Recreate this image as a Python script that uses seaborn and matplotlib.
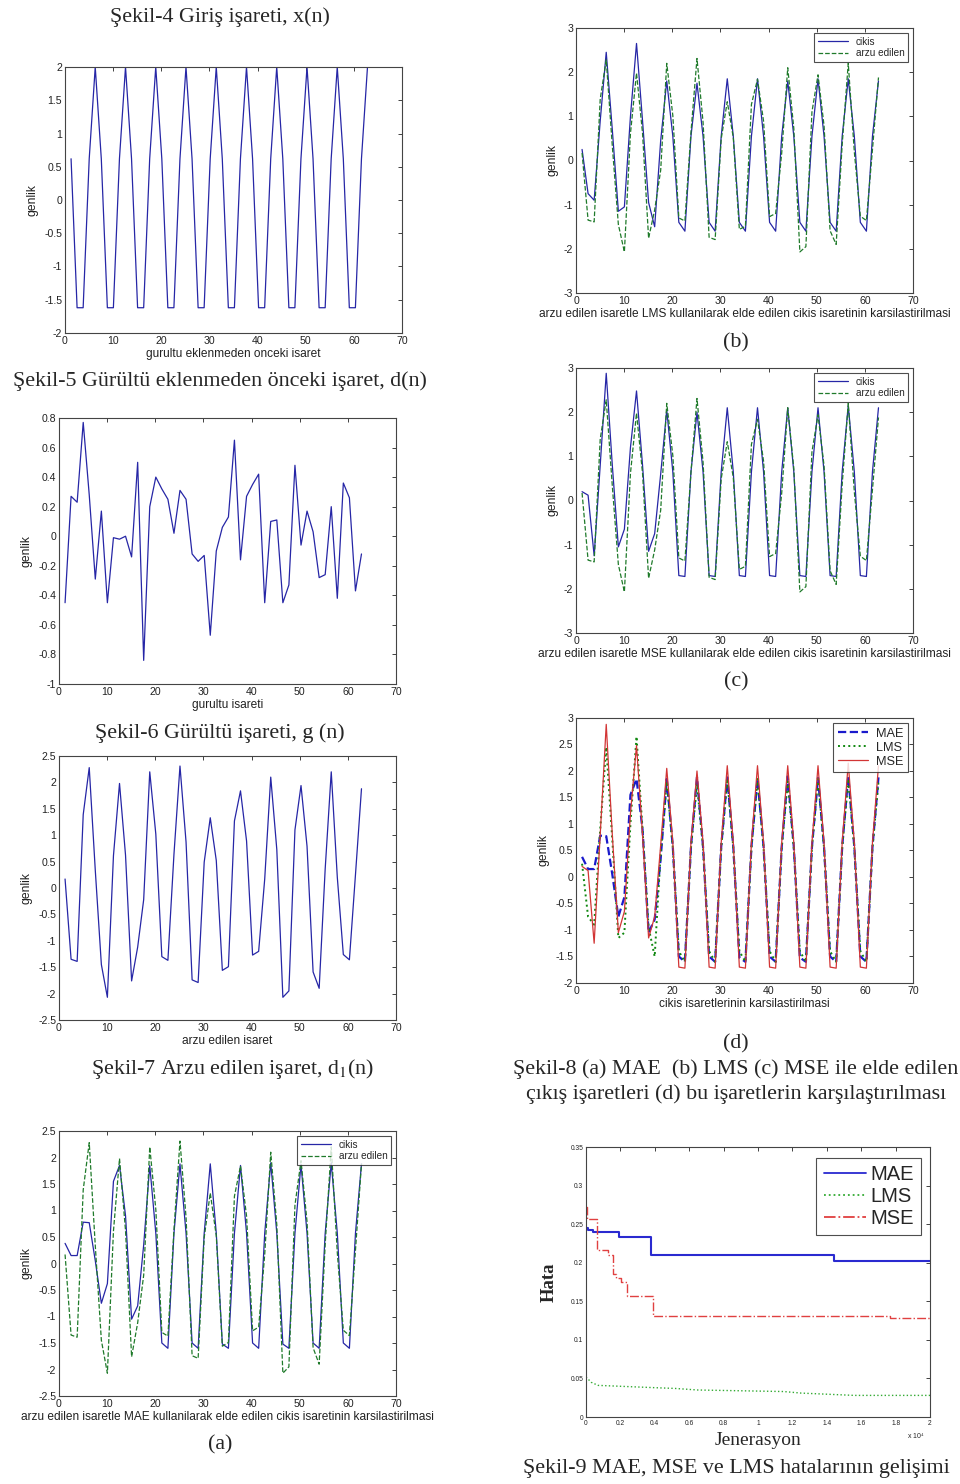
import numpy as np
import pandas as pd
import seaborn as sns
import matplotlib
matplotlib.use("Agg")
import matplotlib.pyplot as plt

# sample positions (x axis of all signal plots)
n = [1.26, 2.51, 3.77, 5.03, 6.28, 7.54, 8.80, 10.05, 11.31, 12.57,
     13.82, 15.08, 16.34, 17.59, 18.85, 20.11, 21.36, 22.62, 23.88, 25.13,
     26.39, 27.65, 28.90, 30.16, 31.42, 32.67, 33.93, 35.19, 36.44, 37.70,
     38.96, 40.21, 41.47, 42.73, 43.98, 45.24, 46.50, 47.75, 49.01, 50.27,
     51.52, 52.78, 54.04, 55.29, 56.55, 57.81, 59.06, 60.32, 61.58, 62.83]

# gurultu eklenmeden onceki isaret d(n)
d_clean = [0.62, -1.62, -1.62, 0.62, 2.00, 0.62, -1.62, -1.62, 0.62, 2.00,
           0.62, -1.62, -1.62, 0.62, 2.00, 0.62, -1.62, -1.62, 0.62, 2.00,
           0.62, -1.62, -1.62, 0.62, 2.00, 0.62, -1.62, -1.62, 0.62, 2.00,
           0.62, -1.62, -1.62, 0.62, 2.00, 0.62, -1.62, -1.62, 0.62, 2.00,
           0.62, -1.62, -1.62, 0.62, 2.00, 0.62, -1.62, -1.62, 0.62, 2.00]

# gurultu isareti g(n)
noise = [-0.45, 0.27, 0.23, 0.77, 0.28, -0.29, 0.17, -0.45, -0.01, -0.02,
         0.00, -0.14, 0.50, -0.84, 0.20, 0.40, 0.32, 0.25, 0.02, 0.31,
         0.25, -0.12, -0.17, -0.13, -0.67, -0.10, 0.06, 0.13, 0.65, -0.16,
         0.27, 0.35, 0.42, -0.45, 0.10, 0.11, -0.45, -0.33, 0.48, -0.06,
         0.17, 0.03, -0.28, -0.26, 0.20, -0.42, 0.36, 0.26, -0.37, -0.12]

# arzu edilen isaret d1(n)
desired = [0.17, -1.35, -1.39, 1.39, 2.28, 0.33, -1.45, -2.07, 0.61, 1.98,
           0.62, -1.76, -1.12, -0.22, 2.20, 1.02, -1.30, -1.37, 0.64, 2.31,
           0.87, -1.74, -1.79, 0.49, 1.33, 0.52, -1.56, -1.49, 1.27, 1.84,
           0.89, -1.27, -1.20, 0.17, 2.10, 0.73, -2.07, -1.95, 1.10, 1.94,
           0.79, -1.59, -1.90, 0.36, 2.20, 0.20, -1.26, -1.36, 0.25, 1.88]

# cikis isaretleri
out_mae = [0.38, 0.15, 0.15, 0.78, 0.77, 0.05, -0.75, -0.38, 1.55, 1.85,
           0.90, -1.05, -0.80, 0.35, 1.85, 0.57, -1.50, -1.60, 0.57, 1.88,
           0.57, -1.50, -1.60, 0.57, 1.88, 0.57, -1.52, -1.60, 0.57, 1.85,
           0.57, -1.50, -1.60, 0.57, 1.90, 0.57, -1.52, -1.60, 0.57, 1.87,
           0.57, -1.50, -1.60, 0.57, 1.90, 0.57, -1.50, -1.60, 0.57, 1.88]

out_lms = [0.25, -0.75, -0.90, 0.90, 2.45, 0.70, -1.15, -1.05, 1.00, 2.65,
           0.90, -0.95, -1.50, 0.45, 1.80, 0.55, -1.40, -1.60, 0.55, 1.75,
           0.55, -1.40, -1.60, 0.55, 1.85, 0.55, -1.40, -1.60, 0.55, 1.85,
           0.55, -1.40, -1.60, 0.55, 1.80, 0.55, -1.40, -1.60, 0.55, 1.85,
           0.55, -1.40, -1.60, 0.55, 1.85, 0.55, -1.40, -1.60, 0.55, 1.80]

out_mse = [0.20, 0.12, -1.25, 0.80, 2.88, 0.80, -1.05, -0.65, 1.20, 2.48,
           0.80, -1.15, -0.75, 0.60, 2.05, 0.65, -1.70, -1.72, 0.65, 2.00,
           0.65, -1.70, -1.72, 0.65, 2.10, 0.65, -1.70, -1.72, 0.65, 2.10,
           0.65, -1.70, -1.72, 0.65, 2.10, 0.65, -1.70, -1.72, 0.65, 2.10,
           0.65, -1.70, -1.72, 0.65, 2.15, 0.65, -1.70, -1.72, 0.65, 2.10]

# hata gelisimi (jenerasyon x 10^4)
mae_gen = [0, 0.01, 0.04, 0.194, 0.378, 1.442, 2.0]
mae_err = [0.245, 0.243, 0.240, 0.233, 0.210, 0.202, 0.202]
mse_gen = [0, 0.005, 0.062, 0.125, 0.155, 0.175, 0.205, 0.236, 0.388, 1.77, 2.0]
mse_err = [0.272, 0.257, 0.216, 0.210, 0.185, 0.180, 0.175, 0.157, 0.131, 0.128, 0.128]
lms_gen = [0, 0.03, 0.07, 0.40, 0.52, 0.65, 1.15, 1.25, 1.56, 2.0]
lms_err = [0.052, 0.045, 0.041, 0.038, 0.037, 0.035, 0.033, 0.031, 0.028, 0.028]

sns.set_style("white")
plt.rcParams['font.family'] = ['Liberation Sans', 'DejaVu Sans']
plt.rcParams['axes.unicode_minus'] = False
plt.rcParams['mathtext.fontset'] = 'stix'

W, H = 960, 1484
BLUE = "#2626a6"
GREEN = "#1f7a2a"
RED = "#d23535"
SERIF = ['Liberation Serif', 'DejaVu Serif']

fig = plt.figure(figsize=(W / 100, H / 100), dpi=100)
fig.patch.set_facecolor("white")


def new_ax(l, t, r, b):
    ax = fig.add_axes([l / W, 1 - b / H, (r - l) / W, (b - t) / H])
    for s in ax.spines.values():
        s.set_color("#444444")
        s.set_linewidth(0.8)
    ax.tick_params(direction='in', top=True, right=True, length=3,
                   width=0.6, labelsize=7.6, pad=2, colors="#222222")
    return ax


def fmt(v):
    return f"{float(v) + 0.0:g}" if abs(v) > 1e-9 else "0"


def signal_ax(ax, ylim, yticks, xlabel):
    ax.set_xlim(0, 70)
    ax.set_xticks(range(0, 71, 10))
    ax.set_ylim(*ylim)
    ax.set_yticks(yticks)
    ax.set_yticklabels([fmt(v) for v in yticks])
    ax.set_xlabel(xlabel, fontsize=8.6, labelpad=1.5, color="#222222")
    ax.set_ylabel("genlik", fontsize=8.7, labelpad=4, color="#222222")


def caption(x, y, s, size=15.8):
    fig.text(x / W, 1 - y / H, s, ha='center', va='center',
             fontsize=size, family=SERIF)


def matlab_legend(ax, loc_xy, size=7.2, hl=3.0, htp=0.8):
    leg = ax.legend(loc='upper right', bbox_to_anchor=loc_xy, frameon=True,
                    fancybox=False, fontsize=size, handlelength=hl,
                    borderpad=0.35, labelspacing=0.15, handletextpad=htp,
                    borderaxespad=0.0)
    leg.get_frame().set_edgecolor("#222222")
    leg.get_frame().set_linewidth(0.8)
    return leg


# --- Sekil-5 : d(n)
ax = new_ax(65, 67, 402, 333)
sns.lineplot(x=n, y=d_clean, ax=ax, color=BLUE, linewidth=0.9, sort=False, estimator=None)
signal_ax(ax, (-2, 2), np.arange(-2, 2.01, 0.5), "gurultu eklenmeden onceki isaret")

# --- Sekil-6 : g(n)
ax = new_ax(59, 418, 396, 684)
sns.lineplot(x=n, y=noise, ax=ax, color=BLUE, linewidth=0.9, sort=False, estimator=None)
signal_ax(ax, (-1, 0.8), np.round(np.arange(-1, 0.81, 0.2), 1), "gurultu isareti")

# --- Sekil-7 : d1(n)
ax = new_ax(59, 756, 396, 1020)
sns.lineplot(x=n, y=desired, ax=ax, color=BLUE, linewidth=0.9, sort=False, estimator=None)
signal_ax(ax, (-2.5, 2.5), np.arange(-2.5, 2.51, 0.5), "arzu edilen isaret")

# --- comparisons (a), (b), (c)
comparisons = [
    ((59, 1131, 396, 1396), out_mae, (-2.5, 2.5), np.arange(-2.5, 2.51, 0.5), "MAE"),
    ((576, 28, 913, 293), out_lms, (-3, 3), np.arange(-3, 3.1, 1), "LMS"),
    ((576, 368, 913, 633), out_mse, (-3, 3), np.arange(-3, 3.1, 1), "MSE"),
]
for box, out, ylim, yt, name in comparisons:
    ax = new_ax(*box)
    sns.lineplot(x=n, y=out, ax=ax, color=BLUE, linewidth=0.9, sort=False,
                 estimator=None, label="cikis")
    sns.lineplot(x=n, y=desired, ax=ax, color=GREEN, linewidth=0.9, sort=False,
                 estimator=None, linestyle='--', dashes=(6, 3), label="arzu edilen")
    signal_ax(ax, ylim, yt,
              f"arzu edilen isaretle {name} kullanilarak elde edilen cikis isaretinin karsilastirilmasi")
    matlab_legend(ax, (0.985, 0.98))

# --- (d) cikis isaretlerinin karsilastirilmasi
ax = new_ax(576, 718, 913, 983)
sns.lineplot(x=n, y=out_mae, ax=ax, color="#1a1acc", linewidth=1.6, sort=False,
             estimator=None, linestyle='--', dashes=(3, 1.5), label="MAE")
sns.lineplot(x=n, y=out_lms, ax=ax, color="#118811", linewidth=1.4, sort=False,
             estimator=None, linestyle=':', label="LMS")
sns.lineplot(x=n, y=out_mse, ax=ax, color=RED, linewidth=0.9, sort=False,
             estimator=None, label="MSE")
signal_ax(ax, (-2, 3), np.arange(-2, 3.01, 0.5), "cikis isaretlerinin karsilastirilmasi")
matlab_legend(ax, (0.985, 0.98), size=9.2, hl=2.4, htp=0.6)

# --- Sekil-9 hata gelisimi
ax = new_ax(586, 1147, 930, 1417)
sns.lineplot(x=mae_gen, y=mae_err, ax=ax, color="#2a2ad0", linewidth=1.5, sort=False,
             estimator=None, drawstyle='steps-post', label="MAE")
sns.lineplot(x=lms_gen, y=lms_err, ax=ax, color="#33aa33", linewidth=1.0, sort=False,
             estimator=None, linestyle=':', label="LMS")
sns.lineplot(x=mse_gen, y=mse_err, ax=ax, color="#e04040", linewidth=1.0, sort=False,
             estimator=None, drawstyle='steps-post', linestyle='-.', label="MSE")
ax.set_xlim(0, 2)
ax.set_ylim(0, 0.35)
xt = np.round(np.arange(0, 2.01, 0.2), 1)
ax.set_xticks(xt)
ax.set_xticklabels([fmt(v) for v in xt])
yt = np.round(np.arange(0, 0.351, 0.05), 2)
ax.set_yticks(yt)
ax.set_yticklabels([fmt(v) for v in yt])
ax.tick_params(labelsize=4.8)
ax.set_xlabel("Jenerasyon", fontsize=14, family=SERIF, labelpad=4)
ax.set_ylabel("Hata", fontsize=13.5, family=SERIF, fontweight='bold', labelpad=9)
ax.text(0.985, -0.055, "x 10$^4$", transform=ax.transAxes, fontsize=5,
        ha='right', va='top')
leg = matlab_legend(ax, (0.975, 0.96), size=14.5, hl=2.1, htp=0.25)
for line in leg.get_lines():
    line.set_linewidth(1.3)

# --- captions
caption(220, 17, "Şekil-4 Giriş işareti, x(n)")
caption(220, 381, "Şekil-5 Gürültü eklenmeden önceki işaret, d(n)")
caption(220, 733, "Şekil-6 Gürültü işareti, g (n)")
caption(233, 1069, "Şekil-7 Arzu edilen işaret, d$_1$(n)")
caption(220, 1445, "(a)")
caption(736, 343, "(b)")
caption(736, 682, "(c)")
caption(736, 1044, "(d)")
caption(736, 1069, "Şekil-8 (a) MAE  (b) LMS (c) MSE ile elde edilen")
caption(736, 1094, "çıkış işaretleri (d) bu işaretlerin karşılaştırılması")
caption(736, 1469, "Şekil-9 MAE, MSE ve LMS hatalarının gelişimi")

fig.savefig("out.png", dpi=100, facecolor="white")
